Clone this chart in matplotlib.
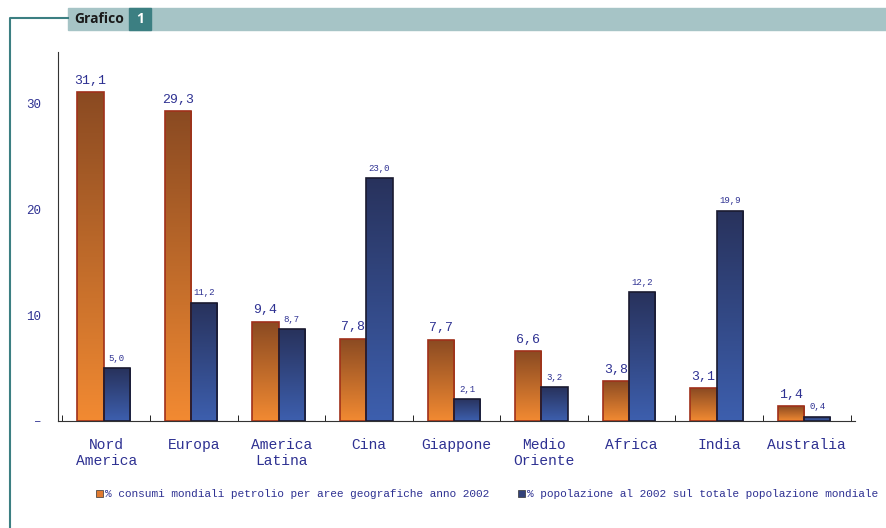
import numpy as np
import matplotlib.pyplot as plt
from matplotlib.colors import LinearSegmentedColormap
from matplotlib.patches import Rectangle

categories = ["Nord\nAmerica", "Europa", "America\nLatina", "Cina", "Giappone",
              "Medio\nOriente", "Africa", "India", "Australia"]
consumi = [31.1, 29.3, 9.4, 7.8, 7.7, 6.6, 3.8, 3.1, 1.4]
popolazione = [5.0, 11.2, 8.7, 23.0, 2.1, 3.2, 12.2, 19.9, 0.4]
legend_labels = ["% consumi mondiali petrolio per aree geografiche anno 2002",
                 "% popolazione al 2002 sul totale popolazione mondiale"]

W, H = 887, 528
fig = plt.figure(figsize=(W / 100, H / 100), dpi=100)
txt = "#2E3192"
mono = "Liberation Mono"

# header
fig.patches.append(Rectangle((68 / W, 1 - 30 / H), (W - 68) / W, 22 / H,
                             transform=fig.transFigure, color="#A6C4C6", zorder=0))
fig.patches.append(Rectangle((129 / W, 1 - 30 / H), 22 / W, 22 / H,
                             transform=fig.transFigure, color="#3C7F82", zorder=1))
fig.text(74 / W, 1 - 19 / H, "Grafico", fontsize=10, fontweight="bold",
         color="#1A1A1A", va="center", family="Open Sans")
fig.text(140 / W, 1 - 19 / H, "1", fontsize=10, fontweight="bold",
         color="white", va="center", ha="center", family="Open Sans")
fig.lines.append(plt.Line2D([10 / W, 10 / W, 68 / W], [0, 1 - 18 / H, 1 - 18 / H],
                            transform=fig.transFigure, color="#3C7F82", lw=1.5))

ax = fig.add_axes([58 / W, 1 - 421 / H, (855 - 58) / W, (421 - 52) / H])
x = np.arange(len(categories))
bw = 0.3
cmap_o = LinearSegmentedColormap.from_list("o", ["#F28A32", "#8A4A22"])
cmap_b = LinearSegmentedColormap.from_list("b", ["#3D5FAE", "#28325C"])
grad = np.linspace(0, 1, 256).reshape(-1, 1)


def grad_bar(x0, h, cmap, edge):
    im = ax.imshow(grad, extent=(x0, x0 + bw, 0, h), origin="lower",
                   aspect="auto", cmap=cmap, zorder=2)
    r = Rectangle((x0, 0), bw, h, fill=False, edgecolor=edge, lw=1.2, zorder=3)
    ax.add_patch(r)
    im.set_clip_path(r)


for i in range(len(categories)):
    grad_bar(x[i] - bw - 0.03, consumi[i], cmap_o, "#A0301A")
    grad_bar(x[i] - 0.03, popolazione[i], cmap_b, "#1A1A30")
    ax.text(x[i] - bw / 2 - 0.03, consumi[i] + 0.5, f"{consumi[i]:.1f}".replace(".", ","),
            ha="center", va="bottom", fontsize=9.5, color=txt, family=mono)
    ax.text(x[i] + bw / 2 - 0.03, popolazione[i] + 0.5, f"{popolazione[i]:.1f}".replace(".", ","),
            ha="center", va="bottom", fontsize=6.5, color=txt, family=mono)

ax.set_xlim(-0.55, len(categories) - 0.45)
ax.set_ylim(0, 34.9)
ax.set_yticks([0, 10, 20, 30])
ax.set_yticklabels(["–", "10", "20", "30"], family=mono, color=txt, fontsize=9)
ax.tick_params(axis="y", length=0, pad=12)
ax.set_xticks(x)
ax.set_xticklabels(categories, family=mono, color=txt, fontsize=10.5)
ax.tick_params(axis="x", length=0, pad=12)
ax.set_xticks(np.arange(len(categories) + 1) - 0.5, minor=True)
ax.tick_params(axis="x", which="minor", length=4, direction="in")
for s in ["top", "right"]:
    ax.spines[s].set_visible(False)
ax.spines["left"].set_color("#333333")
ax.spines["bottom"].set_color("#333333")

# legend
ly = 1 - 494 / H
fig.patches.append(Rectangle((96 / W, ly - 3 / H), 7 / W, 7 / H, transform=fig.transFigure,
                             facecolor="#E07A30", edgecolor="#333333", lw=0.5))
fig.text(105 / W, ly, legend_labels[0], fontsize=8, color=txt, family=mono, va="center")
fig.patches.append(Rectangle((518 / W, ly - 3 / H), 7 / W, 7 / H, transform=fig.transFigure,
                             facecolor="#33427A", edgecolor="#333333", lw=0.5))
fig.text(527 / W, ly, legend_labels[1], fontsize=8, color=txt, family=mono, va="center")

fig.savefig("out.png", dpi=100)
